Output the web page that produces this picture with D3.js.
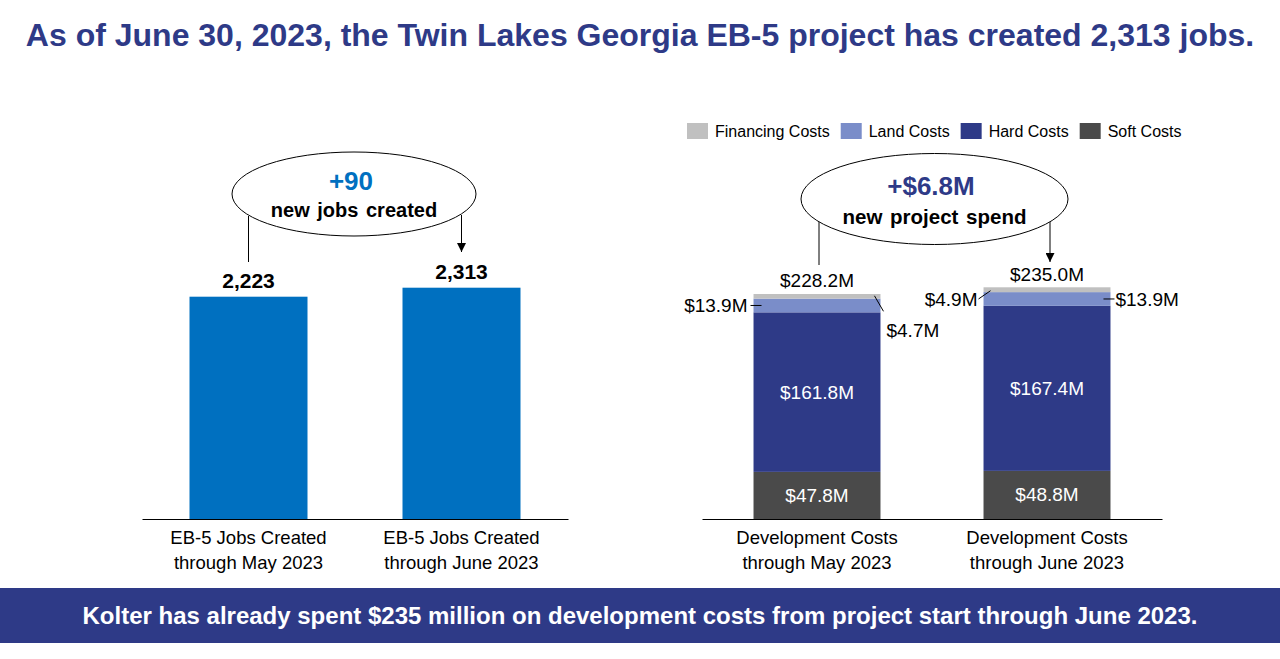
<!DOCTYPE html>
<html>
<head>
<meta charset="utf-8">
<script src="https://cdn.jsdelivr.net/npm/d3@7"></script>
<style>
  html, body { margin: 0; padding: 0; background: #ffffff; }
  svg { display: block; font-family: "Liberation Sans", Arial, Helvetica, sans-serif; }
</style>
</head>
<body>
<svg id="chart" width="1280" height="659"></svg>
<script>
// ---------- DATA ----------
const titleText = "As of June 30, 2023, the Twin Lakes Georgia EB-5 project has created 2,313 jobs.";
const bannerText = "Kolter has already spent $235 million on development costs from project start through June 2023.";

const jobsCategories = ["EB-5 Jobs Created|through May 2023", "EB-5 Jobs Created|through June 2023"];
const jobsValues = [2223, 2313];
const jobsDelta = "+90";
const jobsDeltaLabel = "new jobs created";

const costCategories = ["Development Costs|through May 2023", "Development Costs|through June 2023"];
const seriesNames = ["Soft Costs", "Hard Costs", "Land Costs", "Financing Costs"];
const softCosts = [47.8, 48.8];
const hardCosts = [161.8, 167.4];
const landCosts = [13.9, 13.9];
const financingCosts = [4.7, 4.9];
const costTotals = [228.2, 235.0];
const legendOrder = ["Financing Costs", "Land Costs", "Hard Costs", "Soft Costs"];
const costDelta = "+$6.8M";
const costDeltaLabel = "new project spend";

// ---------- STYLE ----------
const navy = "#2E3A87";
const colors = {
  "Soft Costs": "#4A4A4A",
  "Hard Costs": "#2E3A87",
  "Land Costs": "#7A8DC9",
  "Financing Costs": "#C0C0C0"
};
const jobsColor = "#0070C0";
const fmtM = v => "$" + v.toFixed(1) + "M";
const fmtJobs = d3.format(",");

const svg = d3.select("#chart");

// arrow marker
svg.append("defs").append("marker")
  .attr("id", "arrow").attr("viewBox", "0 0 10 10")
  .attr("refX", 10).attr("refY", 5)
  .attr("markerWidth", 9).attr("markerHeight", 9)
  .attr("markerUnits", "userSpaceOnUse")
  .attr("orient", "auto")
  .append("path").attr("d", "M0,0 L10,5 L0,10 Z").attr("fill", "#000");

// ---------- TITLE ----------
svg.append("text")
  .attr("x", 640).attr("y", 46)
  .attr("text-anchor", "middle")
  .attr("font-size", 32).attr("font-weight", "bold")
  .attr("fill", navy)
  .text(titleText);

// ---------- LEFT CHART: jobs ----------
const xJobs = d3.scaleBand().domain(jobsCategories).range([142, 568])
  .paddingInner(0.446).paddingOuter(0.223);
const yJobs = d3.scaleLinear().domain([0, 2600]).range([519, 259]);

const gJobs = svg.append("g");
gJobs.selectAll("rect.jobs").data(jobsValues).join("rect")
  .attr("class", "jobs")
  .attr("x", (d, i) => xJobs(jobsCategories[i]))
  .attr("width", xJobs.bandwidth())
  .attr("y", d => yJobs(d))
  .attr("height", d => yJobs(0) - yJobs(d))
  .attr("fill", jobsColor);

gJobs.selectAll("text.jv").data(jobsValues).join("text")
  .attr("class", "jv")
  .attr("x", (d, i) => xJobs(jobsCategories[i]) + xJobs.bandwidth() / 2)
  .attr("y", d => yJobs(d) - 8.5)
  .attr("text-anchor", "middle")
  .attr("font-size", 21).attr("font-weight", "bold").attr("fill", "#000")
  .text(d => fmtJobs(d));

function styleAxis(g) {
  g.select(".domain").attr("stroke", "#000").attr("stroke-width", 1.2);
  g.selectAll(".tick line").remove();
  g.selectAll(".tick text").each(function(d) {
    const t = d3.select(this);
    const lines = d.split("|");
    t.text(null).attr("y", 0).attr("dy", null)
      .attr("font-size", 18.5).attr("fill", "#000")
      .attr("font-family", "'Liberation Sans', Arial, sans-serif");
    lines.forEach((ln, k) => {
      t.append("tspan").attr("x", 0).attr("y", 25 + k * 24.5).text(ln);
    });
  });
}

svg.append("g").attr("transform", "translate(0,519)")
  .call(d3.axisBottom(xJobs).tickSize(0).tickSizeOuter(0))
  .call(styleAxis);

// callout ellipse left
const jc0 = xJobs(jobsCategories[0]) + xJobs.bandwidth() / 2;
const jc1 = xJobs(jobsCategories[1]) + xJobs.bandwidth() / 2;
svg.append("line").attr("x1", jc0).attr("x2", jc0).attr("y1", 216).attr("y2", 262)
  .attr("stroke", "#000").attr("stroke-width", 1);
svg.append("line").attr("x1", jc1).attr("x2", jc1).attr("y1", 215).attr("y2", 252)
  .attr("stroke", "#000").attr("stroke-width", 1).attr("marker-end", "url(#arrow)");
svg.append("ellipse").attr("cx", 354).attr("cy", 194).attr("rx", 122).attr("ry", 42)
  .attr("fill", "#fff").attr("stroke", "#000").attr("stroke-width", 1);
svg.append("text").attr("x", 351).attr("y", 190).attr("text-anchor", "middle")
  .attr("font-size", 26).attr("font-weight", "bold").attr("fill", jobsColor).text(jobsDelta);
svg.append("text").attr("x", 354).attr("y", 217).attr("text-anchor", "middle")
  .attr("font-size", 20).attr("font-weight", "bold").attr("fill", "#000")
  .attr("word-spacing", 2).text(jobsDeltaLabel);

// ---------- RIGHT CHART: costs ----------
const xCost = d3.scaleBand().domain(costCategories).range([702, 1162])
  .paddingInner(0.448).paddingOuter(0.224);
const yCost = d3.scaleLinear().domain([0, 250]).range([519, 272.5]);

const seriesData = {
  "Soft Costs": softCosts,
  "Hard Costs": hardCosts,
  "Land Costs": landCosts,
  "Financing Costs": financingCosts
};
const table = costCategories.map((c, i) => {
  const row = { cat: c };
  seriesNames.forEach(s => row[s] = seriesData[s][i]);
  return row;
});
const stacked = d3.stack().keys(seriesNames)(table);

const gCost = svg.append("g");
gCost.selectAll("g.series").data(stacked).join("g")
  .attr("class", "series")
  .attr("fill", d => colors[d.key])
  .selectAll("rect").data(d => d).join("rect")
  .attr("x", d => xCost(d.data.cat))
  .attr("width", xCost.bandwidth())
  .attr("y", d => yCost(d[1]))
  .attr("height", d => yCost(d[0]) - yCost(d[1]));

// inside labels for soft and hard
stacked.filter(s => s.key === "Soft Costs" || s.key === "Hard Costs").forEach(s => {
  gCost.selectAll(null).data(s).join("text")
    .attr("x", d => xCost(d.data.cat) + xCost.bandwidth() / 2)
    .attr("y", d => (yCost(d[0]) + yCost(d[1])) / 2 + 6.5)
    .attr("text-anchor", "middle")
    .attr("font-size", 19).attr("fill", "#fff")
    .text(d => fmtM(d.data[s.key]));
});

// totals
gCost.selectAll("text.total").data(costTotals).join("text")
  .attr("class", "total")
  .attr("x", (d, i) => xCost(costCategories[i]) + xCost.bandwidth() / 2)
  .attr("y", d => yCost(d) - 6.5)
  .attr("text-anchor", "middle")
  .attr("font-size", 19).attr("fill", "#000")
  .text(d => fmtM(d));

// outside labels with leader lines
const landS = stacked.find(s => s.key === "Land Costs");
const finS = stacked.find(s => s.key === "Financing Costs");
function lbl(x, y, anchor, txt) {
  gCost.append("text").attr("x", x).attr("y", y).attr("text-anchor", anchor)
    .attr("font-size", 19).attr("fill", "#000").text(txt);
}
function leader(x1, y1, x2, y2) {
  gCost.append("line").attr("x1", x1).attr("y1", y1).attr("x2", x2).attr("y2", y2)
    .attr("stroke", "#000").attr("stroke-width", 1);
}
// bar 1
{
  const L = xCost(costCategories[0]), R = L + xCost.bandwidth();
  const ly = (yCost(landS[0][0]) + yCost(landS[0][1])) / 2;
  leader(L - 3, ly, L + 8, ly);
  lbl(L - 6, ly + 7, "end", fmtM(landCosts[0]));
  const fy = (yCost(finS[0][0]) + yCost(finS[0][1])) / 2;
  leader(R - 6, fy - 0.5, R + 3, fy + 15);
  lbl(R + 6, fy + 41, "start", fmtM(financingCosts[0]));
}
// bar 2
{
  const L = xCost(costCategories[1]), R = L + xCost.bandwidth();
  const ly = (yCost(landS[1][0]) + yCost(landS[1][1])) / 2;
  leader(R - 7, ly, R + 4, ly);
  lbl(R + 5, ly + 7, "start", fmtM(landCosts[1]));
  const fy = (yCost(finS[1][0]) + yCost(finS[1][1])) / 2;
  leader(L - 5, ly, L + 7, fy + 1);
  lbl(L - 6, ly + 7, "end", fmtM(financingCosts[1]));
}

svg.append("g").attr("transform", "translate(0,519)")
  .call(d3.axisBottom(xCost).tickSize(0).tickSizeOuter(0))
  .call(styleAxis);

// callout ellipse right
const cc0 = xCost(costCategories[0]) + xCost.bandwidth() / 2 + 2;
const cc1 = xCost(costCategories[1]) + xCost.bandwidth() / 2 + 3;
svg.append("line").attr("x1", cc0).attr("x2", cc0).attr("y1", 222).attr("y2", 265)
  .attr("stroke", "#000").attr("stroke-width", 1);
svg.append("line").attr("x1", cc1).attr("x2", cc1).attr("y1", 222).attr("y2", 262)
  .attr("stroke", "#000").attr("stroke-width", 1).attr("marker-end", "url(#arrow)");
svg.append("ellipse").attr("cx", 934.5).attr("cy", 199).attr("rx", 133.5).attr("ry", 45.5)
  .attr("fill", "#fff").attr("stroke", "#000").attr("stroke-width", 1);
svg.append("text").attr("x", 931).attr("y", 195).attr("text-anchor", "middle")
  .attr("font-size", 26).attr("font-weight", "bold").attr("fill", navy).text(costDelta);
svg.append("text").attr("x", 934.5).attr("y", 224).attr("text-anchor", "middle")
  .attr("font-size", 20.5).attr("font-weight", "bold").attr("fill", "#000")
  .attr("word-spacing", 2).text(costDeltaLabel);

// legend
{
  let lx = 687;
  const g = svg.append("g");
  legendOrder.forEach(name => {
    g.append("rect").attr("x", lx).attr("y", 123).attr("width", 21).attr("height", 16)
      .attr("fill", colors[name]);
    const t = g.append("text").attr("x", lx + 28).attr("y", 136.5)
      .attr("font-size", 16).attr("fill", "#000").text(name);
    lx = lx + 28 + t.node().getComputedTextLength() + 11;
  });
}

// ---------- BANNER ----------
svg.append("rect").attr("x", 0).attr("y", 588).attr("width", 1280).attr("height", 55)
  .attr("fill", navy);
svg.append("text").attr("x", 640).attr("y", 624).attr("text-anchor", "middle")
  .attr("font-size", 24).attr("font-weight", "bold").attr("fill", "#fff")
  .text(bannerText);
</script>
</body>
</html>
